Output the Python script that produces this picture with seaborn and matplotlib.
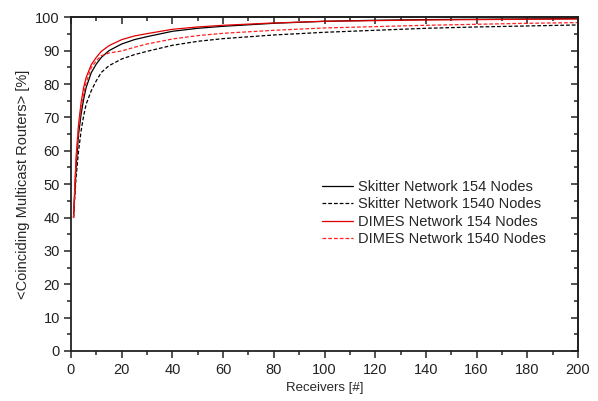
import numpy as np
import pandas as pd
import matplotlib
matplotlib.use("Agg")
import matplotlib.pyplot as plt
import seaborn as sns
from matplotlib.ticker import MultipleLocator

receivers = [1, 2, 3, 4, 5, 6, 8, 10, 12, 15, 20, 25, 30, 40, 50, 60, 80, 100, 120, 140, 160, 180, 200]
skitter_154 = [40, 55, 65, 71, 75.5, 79, 83.4, 86, 88, 90, 92, 93.3, 94.2, 95.8, 96.7, 97.3, 98.2, 98.8, 99.1, 99.3, 99.4, 99.5, 99.6]
skitter_1540 = [40, 52, 60, 66, 70.5, 74, 78, 81, 83.5, 85.5, 87.5, 88.8, 89.8, 91.6, 92.8, 93.6, 94.7, 95.5, 96.1, 96.7, 97.1, 97.4, 97.7]
dimes_154 = [40, 58, 68, 74.5, 79, 82, 85.8, 88, 89.8, 91.5, 93.3, 94.4, 95.1, 96.4, 97.1, 97.6, 98.3, 98.8, 99.0, 99.2, 99.3, 99.4, 99.5]
dimes_1540 = [40, 57, 67, 73, 77, 80.5, 84.9, 87, 88.5, 89.3, 89.9, 91.0, 92, 93.5, 94.5, 95.2, 96.1, 96.8, 97.2, 97.6, 97.9, 98.2, 98.4]

series_names = ["Skitter Network 154 Nodes", "Skitter Network 1540 Nodes",
                "DIMES Network 154 Nodes", "DIMES Network 1540 Nodes"]
series_vals = [skitter_154, skitter_1540, dimes_154, dimes_1540]

df = pd.concat([pd.DataFrame({"x": receivers, "y": v, "series": n})
                for n, v in zip(series_names, series_vals)], ignore_index=True)

sns.set_theme(style="white")
plt.rcParams['font.family'] = ['Liberation Sans', 'DejaVu Sans']

fig = plt.figure(figsize=(5.98, 4.01), dpi=100)
ax = fig.add_axes([0.1187, 0.1247, 0.8479, 0.8322])

palette = {series_names[0]: "black", series_names[1]: "black",
           series_names[2]: "#e00000", series_names[3]: "#ff2020"}
dashes = {series_names[0]: "", series_names[1]: (3, 1.6),
          series_names[2]: "", series_names[3]: (3, 1.6)}

sns.lineplot(data=df, x="x", y="y", hue="series", style="series",
             palette=palette, dashes=dashes, hue_order=series_names,
             style_order=series_names, linewidth=0.9, ax=ax)

ax.set_xlim(0, 200)
ax.set_ylim(0, 100)
ax.xaxis.set_major_locator(MultipleLocator(20))
ax.xaxis.set_minor_locator(MultipleLocator(10))
ax.yaxis.set_major_locator(MultipleLocator(10))
ax.yaxis.set_minor_locator(MultipleLocator(5))

tick_col = "#222222"
ax.tick_params(which="both", direction="out", bottom=True, left=True,
               top=False, right=False, labelsize=10.5, colors=tick_col, width=1.1)
ax.tick_params(which="major", length=5)
ax.tick_params(which="minor", length=3)
ax.tick_params(axis="x", pad=4)
ax.tick_params(axis="y", pad=3)

# mirrored inward ticks on top/right
sec_x = ax.secondary_xaxis("top")
sec_x.xaxis.set_major_locator(MultipleLocator(20))
sec_x.xaxis.set_minor_locator(MultipleLocator(10))
sec_x.tick_params(which="both", direction="in", labeltop=False, colors=tick_col, width=1.1)
sec_x.tick_params(which="major", length=5)
sec_x.tick_params(which="minor", length=3)
sec_y = ax.secondary_yaxis("right")
sec_y.yaxis.set_major_locator(MultipleLocator(10))
sec_y.yaxis.set_minor_locator(MultipleLocator(5))
sec_y.tick_params(which="both", direction="in", labelright=False, colors=tick_col, width=1.1)
sec_y.tick_params(which="major", length=5)
sec_y.tick_params(which="minor", length=3)
for s in list(ax.spines.values()) + [sec_x.spines["top"], sec_y.spines["right"]]:
    s.set_linewidth(1.3)
    s.set_color(tick_col)

ax.set_xlabel("Receivers [#]", fontsize=9.5, labelpad=3)
ax.set_ylabel("<Coinciding Multicast Routers> [%]", fontsize=10.5, labelpad=4)

leg = ax.legend(loc="upper left", bbox_to_anchor=(0.495, 0.513), frameon=False,
                fontsize=10.5, handlelength=2.1, handletextpad=0.4,
                labelspacing=0.24, borderaxespad=0, borderpad=0)

fig.savefig("out.png", dpi=100)
